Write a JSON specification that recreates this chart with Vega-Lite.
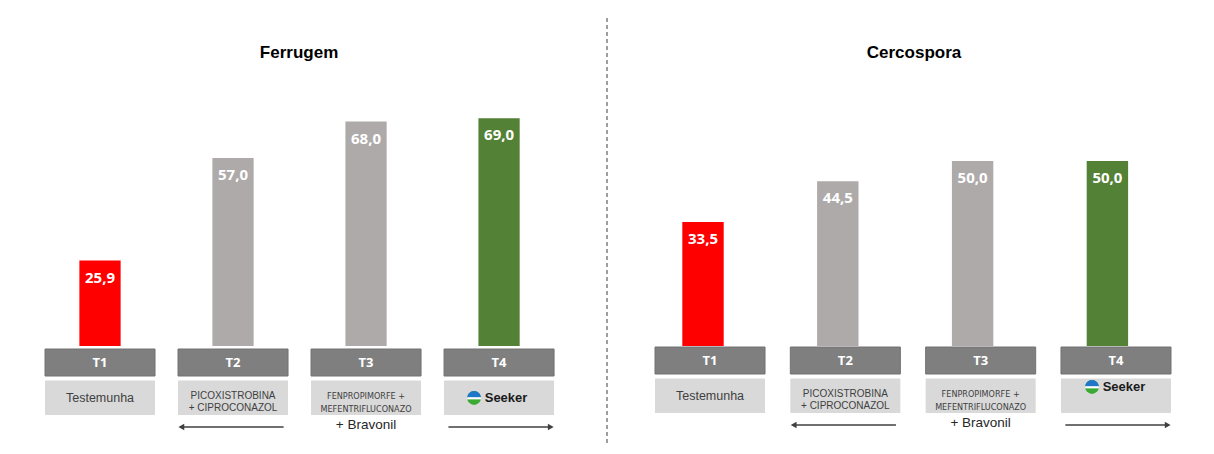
{
  "$schema": "https://vega.github.io/schema/vega-lite/v6.json",
  "autosize": {"type": "pad"},
  "padding": {"left": 44, "top": 17, "right": 0, "bottom": 0},
  "background": "#FFFFFF",
  "config": {
    "view": {"stroke": null},
    "font": "Liberation Sans",
    "locale": {"number": {"decimal": ",", "thousands": ".", "grouping": [3], "currency": ["", ""]}}
  },
  "datasets": {
    "ferrugem": [
      {"t": "T1", "value": 25.9, "name": "Testemunha"},
      {"t": "T2", "value": 57.0, "name": "PICOXISTROBINA\n+ CIPROCONAZOL"},
      {"t": "T3", "value": 68.0, "name": "FENPROPIMORFE +\nMEFENTRIFLUCONAZO"},
      {"t": "T4", "value": 69.0, "name": "Seeker"}
    ],
    "cercospora": [
      {"t": "T1", "value": 33.5, "name": "Testemunha"},
      {"t": "T2", "value": 44.5, "name": "PICOXISTROBINA\n+ CIPROCONAZOL"},
      {"t": "T3", "value": 50.0, "name": "FENPROPIMORFE +\nMEFENTRIFLUCONAZO"},
      {"t": "T4", "value": 50.0, "name": "Seeker"}
    ],
    "arrows": [
      {"t": "T2", "dir": "left"},
      {"t": "T4", "dir": "right"}
    ],
    "notes": [
      {"t": "T3", "note": "+ Bravonil"}
    ]
  },
  "spacing": 46,
  "resolve": {"scale": {"x": "independent", "y": "independent"}},
  "hconcat": [
    {
      "spacing": 0,
      "resolve": {"scale": {"x": "independent", "y": "independent"}},
      "vconcat": [
        {
          "width": 562,
          "height": 328,
          "layer": [
            {
              "data": {"name": "ferrugem"},
              "mark": {"type": "bar", "width": {"band": 0.375}},
              "encoding": {
                "x": {"field": "t", "type": "nominal", "scale": {"type": "band", "domain": ["T1", "T2", "T3", "T4"], "paddingInner": 0.1729, "paddingOuter": 0.199, "align": 0}, "axis": null},
                "y": {"field": "value", "type": "quantitative", "scale": {"domain": [0, 99.39], "nice": false, "zero": false}, "axis": null},
                "color": {"field": "t", "type": "nominal", "scale": {"domain": ["T1", "T2", "T3", "T4"], "range": ["#FF0000", "#AEAAAA", "#AEAAAA", "#538135"]}, "legend": null}
              }
            },
            {
              "data": {"name": "ferrugem"},
              "mark": {"type": "text", "baseline": "top", "dy": 10, "font": "Open Sans", "fontWeight": "bold", "fontSize": 15, "fill": "#FFFFFF"},
              "encoding": {
                "x": {"field": "t", "type": "nominal", "scale": {"type": "band", "domain": ["T1", "T2", "T3", "T4"], "paddingInner": 0.1729, "paddingOuter": 0.199, "align": 0}, "axis": null},
                "y": {"field": "value", "type": "quantitative", "scale": {"domain": [0, 99.39], "nice": false, "zero": false}, "axis": null},
                "text": {"field": "value", "type": "quantitative", "format": ".1f"}
              }
            },
            {
              "data": {"values": [{"title": "Ferrugem"}]},
              "mark": {"type": "text", "baseline": "alphabetic", "align": "center", "dx": -67, "font": "Liberation Sans", "fontWeight": "bold", "fontSize": 17, "fill": "#000000"},
              "encoding": {
                "x": {"datum": "T3", "scale": {"type": "band", "domain": ["T1", "T2", "T3", "T4"], "paddingInner": 0.1729, "paddingOuter": 0.199, "align": 0}, "axis": null},
                "y": {"datum": 87.36, "scale": {"domain": [0, 99.39], "nice": false, "zero": false}, "axis": null},
                "text": {"field": "title"}
              }
            },
            {
              "data": {"values": [{}]},
              "mark": {"type": "rule", "stroke": "#7F7F7F", "strokeWidth": 1.5, "strokeDash": [4, 3]},
              "encoding": {"x": {"value": "width"}}
            }
          ]
        },
        {
          "width": 562,
          "height": 96,
          "layer": [
            {
              "data": {"name": "ferrugem"},
              "mark": {"type": "bar", "fill": "#7F7F7F", "stroke": "#727272", "strokeWidth": 1},
              "encoding": {
                "x": {"field": "t", "type": "nominal", "scale": {"type": "band", "domain": ["T1", "T2", "T3", "T4"], "paddingInner": 0.1729, "paddingOuter": 0.199, "align": 0}, "axis": null},
                "y": {"datum": 1, "scale": {"domain": [0, 96], "nice": false, "zero": false, "reverse": true}, "axis": null},
                "y2": {"datum": 28}
              }
            },
            {
              "data": {"name": "ferrugem"},
              "mark": {"type": "bar", "fill": "#D9D9D9"},
              "encoding": {
                "x": {"field": "t", "type": "nominal"},
                "y": {"datum": 32.5},
                "y2": {"datum": 67}
              }
            },
            {
              "data": {"name": "ferrugem"},
              "mark": {"type": "text", "font": "Open Sans", "fontWeight": "bold", "fontSize": 13, "fill": "#FFFFFF", "baseline": "middle"},
              "encoding": {
                "x": {"field": "t", "type": "nominal"},
                "y": {"datum": 14.5},
                "text": {"field": "t"}
              }
            },
            {
              "data": {"name": "ferrugem"},
              "transform": [{"filter": "datum.t === 'T1'"}],
              "mark": {"type": "text", "font": "Liberation Sans", "fontSize": 12.5, "fill": "#404040", "baseline": "middle"},
              "encoding": {
                "x": {"field": "t", "type": "nominal"},
                "y": {"datum": 49.5},
                "text": {"field": "name"}
              }
            },
            {
              "data": {"name": "ferrugem"},
              "transform": [{"filter": "datum.t === 'T2'"}],
              "mark": {"type": "text", "font": "Liberation Sans", "fontSize": 10, "lineHeight": 12, "lineBreak": "\n", "fill": "#404040", "baseline": "middle"},
              "encoding": {
                "x": {"field": "t", "type": "nominal"},
                "y": {"datum": 47.5},
                "text": {"field": "name"}
              }
            },
            {
              "data": {"name": "ferrugem"},
              "transform": [{"filter": "datum.t === 'T3'"}],
              "mark": {"type": "text", "font": "DejaVu Sans Condensed, Liberation Sans", "fontSize": 9, "lineHeight": 12.6, "lineBreak": "\n", "fill": "#404040", "baseline": "middle"},
              "encoding": {
                "x": {"field": "t", "type": "nominal"},
                "y": {"datum": 48},
                "text": {"field": "name"}
              }
            },
            {
              "data": {"name": "ferrugem"},
              "transform": [{"filter": "datum.t === 'T4'"}],
              "mark": {"type": "point", "shape": "circle", "filled": true, "size": 190, "color": "#3BAA35", "opacity": 1},
              "encoding": {
                "x": {"field": "t", "type": "nominal", "bandPosition": 0.273},
                "y": {"datum": 50}
              }
            },
            {
              "data": {"name": "ferrugem"},
              "transform": [{"filter": "datum.t === 'T4'"}],
              "mark": {"type": "point", "shape": "M-1,0A1,1 0 0 1 1,0Z", "filled": true, "size": 190, "color": "#1F77C8", "opacity": 1},
              "encoding": {
                "x": {"field": "t", "type": "nominal", "bandPosition": 0.273},
                "y": {"datum": 50}
              }
            },
            {
              "data": {"name": "ferrugem"},
              "transform": [{"filter": "datum.t === 'T4'"}],
              "mark": {"type": "point", "shape": "M-1,-0.12L1,-0.12L1,0.2L-1,0.2Z", "filled": true, "size": 190, "color": "#FFFFFF", "opacity": 1},
              "encoding": {
                "x": {"field": "t", "type": "nominal", "bandPosition": 0.273},
                "y": {"datum": 50}
              }
            },
            {
              "data": {"name": "ferrugem"},
              "transform": [{"filter": "datum.t === 'T4'"}],
              "mark": {"type": "text", "font": "Liberation Sans", "fontWeight": "bold", "fontSize": 13, "fill": "#1A1A1A", "baseline": "middle", "dx": 7},
              "encoding": {
                "x": {"field": "t", "type": "nominal"},
                "y": {"datum": 50},
                "text": {"field": "name"}
              }
            },
            {
              "data": {"name": "arrows"},
              "mark": {"type": "bar", "width": {"band": 0.92}, "fill": "#404040"},
              "encoding": {
                "x": {"field": "t", "type": "nominal"},
                "y": {"datum": 78.3},
                "y2": {"datum": 79.7}
              }
            },
            {
              "data": {"name": "arrows"},
              "transform": [{"filter": "datum.dir === 'left'"}],
              "mark": {"type": "point", "shape": "triangle-left", "filled": true, "size": 45, "color": "#404040", "opacity": 1},
              "encoding": {
                "x": {"field": "t", "type": "nominal", "bandPosition": 0.03},
                "y": {"datum": 79}
              }
            },
            {
              "data": {"name": "arrows"},
              "transform": [{"filter": "datum.dir === 'right'"}],
              "mark": {"type": "point", "shape": "triangle-right", "filled": true, "size": 45, "color": "#404040", "opacity": 1},
              "encoding": {
                "x": {"field": "t", "type": "nominal", "bandPosition": 0.97},
                "y": {"datum": 79}
              }
            },
            {
              "data": {"name": "notes"},
              "mark": {"type": "text", "font": "Liberation Sans", "fontSize": 13.5, "fill": "#262626", "baseline": "middle"},
              "encoding": {
                "x": {"field": "t", "type": "nominal"},
                "y": {"datum": 77},
                "text": {"field": "note"}
              }
            },
            {
              "data": {"values": [{}]},
              "mark": {"type": "rule", "stroke": "#7F7F7F", "strokeWidth": 1.5, "strokeDash": [4, 3]},
              "encoding": {"x": {"value": "width"}}
            }
          ]
        }
      ]
    },
    {
      "spacing": 0,
      "resolve": {"scale": {"x": "independent", "y": "independent"}},
      "vconcat": [
        {
          "width": 516,
          "height": 328,
          "layer": [
            {
              "data": {"name": "cercospora"},
              "mark": {"type": "bar", "width": {"band": 0.46}},
              "encoding": {
                "x": {"field": "t", "type": "nominal", "scale": {"type": "band", "domain": ["T1", "T2", "T3", "T4"], "paddingInner": 0.3323, "paddingOuter": 0.0801, "align": 0.139}, "axis": null},
                "y": {"field": "value", "type": "quantitative", "scale": {"domain": [0, 88.65], "nice": false, "zero": false}, "axis": null},
                "color": {"field": "t", "type": "nominal", "scale": {"domain": ["T1", "T2", "T3", "T4"], "range": ["#FF0000", "#AEAAAA", "#AEAAAA", "#538135"]}, "legend": null}
              }
            },
            {
              "data": {"name": "cercospora"},
              "mark": {"type": "text", "baseline": "top", "dy": 10, "font": "Open Sans", "fontWeight": "bold", "fontSize": 15, "fill": "#FFFFFF"},
              "encoding": {
                "x": {"field": "t", "type": "nominal", "scale": {"type": "band", "domain": ["T1", "T2", "T3", "T4"], "paddingInner": 0.3323, "paddingOuter": 0.0801, "align": 0.139}, "axis": null},
                "y": {"field": "value", "type": "quantitative", "scale": {"domain": [0, 88.65], "nice": false, "zero": false}, "axis": null},
                "text": {"field": "value", "type": "quantitative", "format": ".1f"}
              }
            },
            {
              "data": {"values": [{"title": "Cercospora"}]},
              "mark": {"type": "text", "baseline": "alphabetic", "align": "center", "dx": -58.6, "font": "Liberation Sans", "fontWeight": "bold", "fontSize": 17, "fill": "#000000"},
              "encoding": {
                "x": {"datum": "T3", "scale": {"type": "band", "domain": ["T1", "T2", "T3", "T4"], "paddingInner": 0.3323, "paddingOuter": 0.0801, "align": 0.139}, "axis": null},
                "y": {"datum": 77.92, "scale": {"domain": [0, 88.65], "nice": false, "zero": false}, "axis": null},
                "text": {"field": "title"}
              }
            }
          ]
        },
        {
          "width": 516,
          "height": 96,
          "layer": [
            {
              "data": {"name": "cercospora"},
              "mark": {"type": "bar", "fill": "#7F7F7F", "stroke": "#727272", "strokeWidth": 1},
              "encoding": {
                "x": {"field": "t", "type": "nominal", "scale": {"type": "band", "domain": ["T1", "T2", "T3", "T4"], "paddingInner": 0.187, "paddingOuter": 0}, "axis": null},
                "y": {"datum": 1, "scale": {"domain": [0, 96], "nice": false, "zero": false, "reverse": true}, "axis": null},
                "y2": {"datum": 28}
              }
            },
            {
              "data": {"name": "cercospora"},
              "mark": {"type": "bar", "fill": "#D9D9D9"},
              "encoding": {
                "x": {"field": "t", "type": "nominal"},
                "y": {"datum": 32.5},
                "y2": {"datum": 67}
              }
            },
            {
              "data": {"name": "cercospora"},
              "mark": {"type": "text", "font": "Open Sans", "fontWeight": "bold", "fontSize": 13, "fill": "#FFFFFF", "baseline": "middle"},
              "encoding": {
                "x": {"field": "t", "type": "nominal"},
                "y": {"datum": 14.5},
                "text": {"field": "t"}
              }
            },
            {
              "data": {"name": "cercospora"},
              "transform": [{"filter": "datum.t === 'T1'"}],
              "mark": {"type": "text", "font": "Liberation Sans", "fontSize": 12.5, "fill": "#404040", "baseline": "middle"},
              "encoding": {
                "x": {"field": "t", "type": "nominal"},
                "y": {"datum": 49.5},
                "text": {"field": "name"}
              }
            },
            {
              "data": {"name": "cercospora"},
              "transform": [{"filter": "datum.t === 'T2'"}],
              "mark": {"type": "text", "font": "Liberation Sans", "fontSize": 10, "lineHeight": 12, "lineBreak": "\n", "fill": "#404040", "baseline": "middle"},
              "encoding": {
                "x": {"field": "t", "type": "nominal"},
                "y": {"datum": 47.5},
                "text": {"field": "name"}
              }
            },
            {
              "data": {"name": "cercospora"},
              "transform": [{"filter": "datum.t === 'T3'"}],
              "mark": {"type": "text", "font": "DejaVu Sans Condensed, Liberation Sans", "fontSize": 9, "lineHeight": 12.6, "lineBreak": "\n", "fill": "#404040", "baseline": "middle"},
              "encoding": {
                "x": {"field": "t", "type": "nominal"},
                "y": {"datum": 48},
                "text": {"field": "name"}
              }
            },
            {
              "data": {"name": "cercospora"},
              "transform": [{"filter": "datum.t === 'T4'"}],
              "mark": {"type": "point", "shape": "circle", "filled": true, "size": 190, "color": "#3BAA35", "opacity": 1},
              "encoding": {
                "x": {"field": "t", "type": "nominal", "bandPosition": 0.282},
                "y": {"datum": 41}
              }
            },
            {
              "data": {"name": "cercospora"},
              "transform": [{"filter": "datum.t === 'T4'"}],
              "mark": {"type": "point", "shape": "M-1,0A1,1 0 0 1 1,0Z", "filled": true, "size": 190, "color": "#1F77C8", "opacity": 1},
              "encoding": {
                "x": {"field": "t", "type": "nominal", "bandPosition": 0.282},
                "y": {"datum": 41}
              }
            },
            {
              "data": {"name": "cercospora"},
              "transform": [{"filter": "datum.t === 'T4'"}],
              "mark": {"type": "point", "shape": "M-1,-0.12L1,-0.12L1,0.2L-1,0.2Z", "filled": true, "size": 190, "color": "#FFFFFF", "opacity": 1},
              "encoding": {
                "x": {"field": "t", "type": "nominal", "bandPosition": 0.282},
                "y": {"datum": 41}
              }
            },
            {
              "data": {"name": "cercospora"},
              "transform": [{"filter": "datum.t === 'T4'"}],
              "mark": {"type": "text", "font": "Liberation Sans", "fontWeight": "bold", "fontSize": 13, "fill": "#1A1A1A", "baseline": "middle", "dx": 8},
              "encoding": {
                "x": {"field": "t", "type": "nominal"},
                "y": {"datum": 41},
                "text": {"field": "name"}
              }
            },
            {
              "data": {"name": "arrows"},
              "mark": {"type": "bar", "width": {"band": 0.92}, "fill": "#404040"},
              "encoding": {
                "x": {"field": "t", "type": "nominal"},
                "y": {"datum": 78.3},
                "y2": {"datum": 79.7}
              }
            },
            {
              "data": {"name": "arrows"},
              "transform": [{"filter": "datum.dir === 'left'"}],
              "mark": {"type": "point", "shape": "triangle-left", "filled": true, "size": 45, "color": "#404040", "opacity": 1},
              "encoding": {
                "x": {"field": "t", "type": "nominal", "bandPosition": 0.03},
                "y": {"datum": 79}
              }
            },
            {
              "data": {"name": "arrows"},
              "transform": [{"filter": "datum.dir === 'right'"}],
              "mark": {"type": "point", "shape": "triangle-right", "filled": true, "size": 45, "color": "#404040", "opacity": 1},
              "encoding": {
                "x": {"field": "t", "type": "nominal", "bandPosition": 0.97},
                "y": {"datum": 79}
              }
            },
            {
              "data": {"name": "notes"},
              "mark": {"type": "text", "font": "Liberation Sans", "fontSize": 13.5, "fill": "#262626", "baseline": "middle"},
              "encoding": {
                "x": {"field": "t", "type": "nominal"},
                "y": {"datum": 77},
                "text": {"field": "note"}
              }
            }
          ]
        }
      ]
    }
  ]
}
